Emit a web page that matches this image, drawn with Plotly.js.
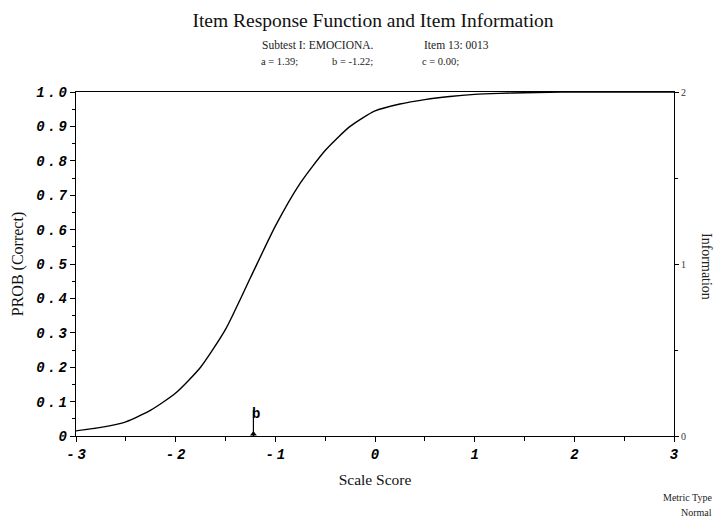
<!DOCTYPE html>
<html>
<head>
<meta charset="utf-8">
<script src="https://cdn.plot.ly/plotly-3.0.1.min.js"></script>
<style>html,body{margin:0;padding:0;background:#fff;}#chart{width:716px;height:519px;}</style>
</head>
<body>
<div id="chart"></div>
<script>
// Item response function
const theta = [-3, -2.75, -2.5, -2.25, -2, -1.75, -1.5, -1.25, -1, -0.75, -0.5, -0.25, 0, 0.25, 0.5, 0.75, 1, 1.25, 1.5, 1.75, 2, 2.25, 2.5, 2.75, 3];
const probCorrect = [0.015, 0.025, 0.041, 0.075, 0.125, 0.2, 0.31, 0.46, 0.61, 0.735, 0.83, 0.9, 0.945, 0.965, 0.978, 0.987, 0.993, 0.996, 0.998, 0.999, 1.0, 1.0, 1.0, 1.0, 1.0];
const bValue = -1.22;
const bMarkerY = [0, 0.075];
const xTickVals = [-3, -2, -1, 0, 1, 2, 3];
const xTickText = ['-3', '-2', '-1', '0', '1', '2', '3'];
const yTickVals = [0, 0.1, 0.2, 0.3, 0.4, 0.5, 0.6, 0.7, 0.8, 0.9, 1.0];
const yTickText = ['0', '0.1', '0.2', '0.3', '0.4', '0.5', '0.6', '0.7', '0.8', '0.9', '1.0'];
const infoTickVals = [0, 1, 2];
const infoTickText = ['0', '1', '2'];
const titleText = 'Item Response Function and Item Information';
const subtitle1a = 'Subtest I: EMOCIONA.';
const subtitle1b = 'Item 13: 0013';
const paramA = 'a = 1.39;';
const paramB = 'b = -1.22;';
const paramC = 'c = 0.00;';

const serif = 'Liberation Serif, Times New Roman, serif';
const monoFont = {family: 'Liberation Mono, DejaVu Sans Mono, monospace', size: 14, color: '#000', weight: 'bold', style: 'italic'};
const spaced = s => s.split('').join('\u2009');

const traces = [
  {x: theta, y: probCorrect, type: 'scatter', mode: 'lines', line: {color: '#000', width: 1.4, shape: 'spline', smoothing: 0.6}, hoverinfo: 'skip', showlegend: false},
  {x: [bValue, bValue], y: bMarkerY, type: 'scatter', mode: 'lines', line: {color: '#000', width: 1.2}, hoverinfo: 'skip', showlegend: false},
  {x: [bValue], y: [0.006], type: 'scatter', mode: 'markers', marker: {symbol: 'triangle-up', size: 6, color: '#000'}, hoverinfo: 'skip', showlegend: false},
  {x: [], y: [], type: 'scatter', yaxis: 'y2', hoverinfo: 'skip', showlegend: false}
];

const layout = {
  width: 716, height: 519,
  margin: {l: 76, r: 42, t: 92, b: 83},
  paper_bgcolor: '#fff', plot_bgcolor: '#fff',
  showlegend: false,
  title: {text: titleText, font: {family: serif, size: 19.5, color: '#111'}, xref: 'container', x: 373/716, xanchor: 'center', y: 1 - 20/519, yanchor: 'middle', yref: 'container'},
  xaxis: {
    range: [-3, 3], showgrid: false, zeroline: false,
    showline: true, linecolor: '#000', linewidth: 1.2, mirror: true,
    ticks: 'outside', ticklen: 5, tickcolor: '#000',
    tickvals: xTickVals, ticktext: xTickText.map(spaced), tickfont: monoFont,
    minor: {dtick: 0.5, ticks: 'outside', ticklen: 4, tickcolor: '#000', showgrid: false},
    title: {text: 'Scale Score', font: {family: serif, size: 15.5, color: '#111'}, standoff: 12}
  },
  yaxis: {
    range: [0, 1.0], showgrid: false, zeroline: false,
    showline: true, linecolor: '#000', linewidth: 1.2,
    ticks: 'outside', ticklen: 5, tickcolor: '#000',
    tickvals: yTickVals, ticktext: yTickText.map(spaced), tickfont: monoFont,
    minor: {dtick: 0.05, ticks: 'outside', ticklen: 3, tickcolor: '#000', showgrid: false},
    title: {text: 'PROB (Correct)', font: {family: serif, size: 16, color: '#111'}, standoff: 8}
  },
  yaxis2: {
    overlaying: 'y', side: 'right', anchor: 'x',
    range: [0, 2], showgrid: false, zeroline: false,
    showline: true, linecolor: '#000', linewidth: 1,
    ticks: 'outside', ticklen: 4, tickcolor: '#000',
    tickvals: infoTickVals, ticktext: infoTickText,
    tickfont: {family: serif, size: 10, color: '#333'},
    minor: {dtick: 0.5, ticks: 'outside', ticklen: 3, tickcolor: '#000', showgrid: false}
  },
  annotations: [
    {xref: 'paper', yref: 'paper', x: (318-76)/598, y: (436-45)/344, text: subtitle1a, showarrow: false, xanchor: 'center', yanchor: 'middle', font: {family: serif, size: 11.5, color: '#222'}},
    {xref: 'paper', yref: 'paper', x: (456-76)/598, y: (436-45)/344, text: subtitle1b, showarrow: false, xanchor: 'center', yanchor: 'middle', font: {family: serif, size: 11.5, color: '#222'}},
    {xref: 'paper', yref: 'paper', x: (279-76)/598, y: (436-61)/344, text: paramA, showarrow: false, xanchor: 'center', yanchor: 'middle', font: {family: serif, size: 10.5, color: '#222'}},
    {xref: 'paper', yref: 'paper', x: (352-76)/598, y: (436-61)/344, text: paramB, showarrow: false, xanchor: 'center', yanchor: 'middle', font: {family: serif, size: 10.5, color: '#222'}},
    {xref: 'paper', yref: 'paper', x: (440-76)/598, y: (436-61)/344, text: paramC, showarrow: false, xanchor: 'center', yanchor: 'middle', font: {family: serif, size: 10.5, color: '#222'}},
    {xref: 'paper', yref: 'paper', x: (707-76)/598, y: (436-266)/344, text: 'Information', textangle: 90, showarrow: false, xanchor: 'center', yanchor: 'middle', font: {family: serif, size: 14, color: '#222'}},
    {xref: 'x', yref: 'y', x: bValue, y: bMarkerY[1], text: 'b', showarrow: false, xanchor: 'left', yanchor: 'middle', xshift: -3, yshift: -4, font: {family: 'Liberation Mono, monospace', size: 14, color: '#000', weight: 'bold'}},
    {xref: 'paper', yref: 'paper', x: (687-76)/598, y: (436-497)/344, text: 'Metric Type', showarrow: false, xanchor: 'center', yanchor: 'middle', font: {family: serif, size: 10, color: '#222'}},
    {xref: 'paper', yref: 'paper', x: (696-76)/598, y: (436-512)/344, text: 'Normal', showarrow: false, xanchor: 'center', yanchor: 'middle', font: {family: serif, size: 10, color: '#222'}}
  ]
};

Plotly.newPlot('chart', traces, layout, {staticPlot: true, displayModeBar: false});
</script>
</body>
</html>
